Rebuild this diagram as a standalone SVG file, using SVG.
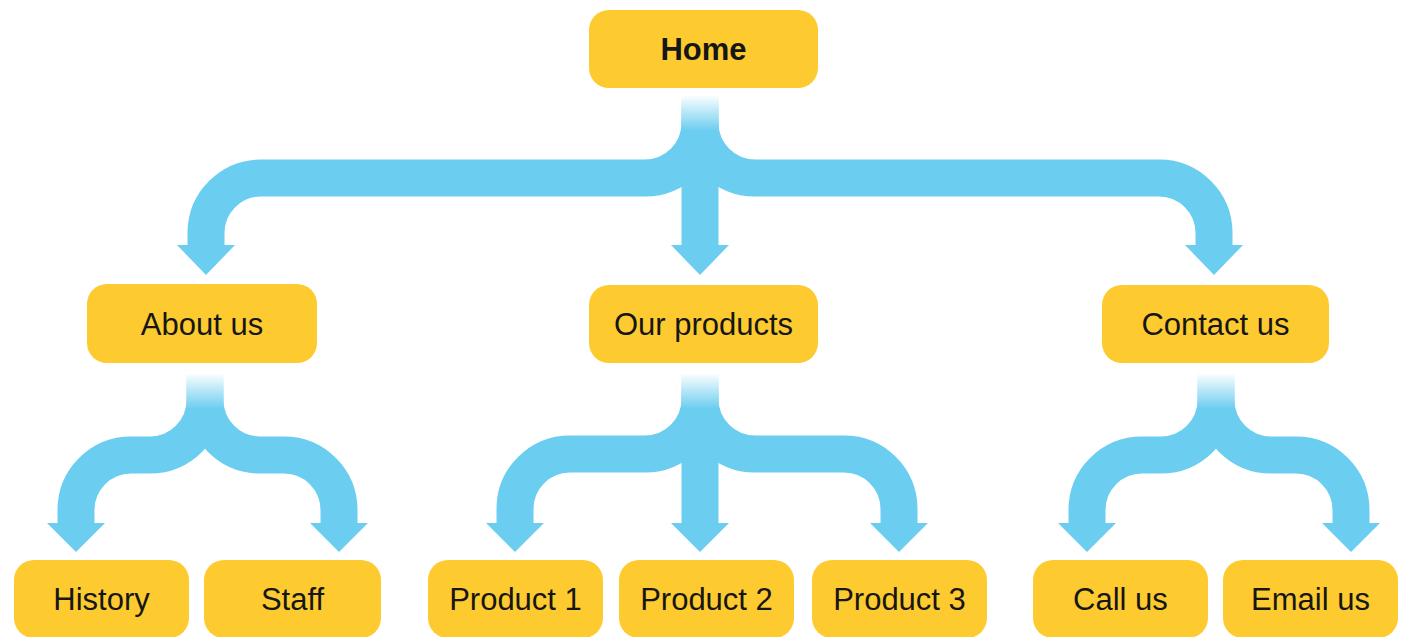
<svg xmlns="http://www.w3.org/2000/svg" width="1410" height="637" viewBox="0 0 1410 637">
<defs>
<linearGradient id="fade" x1="0" y1="0" x2="0" y2="1">
<stop offset="0" stop-color="#ffffff" stop-opacity="1"/>
<stop offset="1" stop-color="#ffffff" stop-opacity="0"/>
</linearGradient>
<style>
.box{fill:#fdcb30}
.lbl{font-family:"Liberation Sans",Arial,sans-serif;font-size:31px;fill:#161616;text-anchor:middle}
.bold{font-weight:bold}
.flow{fill:none;stroke:#6bcdf0;stroke-width:37;stroke-linecap:butt}
.head{fill:#6bcdf0}
.fade{fill:url(#fade)}
</style>
</defs>
<rect width="1410" height="637" fill="#ffffff"/>
<g id="connectors">
<path class="flow" d="M700 96 V123 A55 55 0 0 1 645 178 H261 A55 55 0 0 0 206 233 V247"/>
<path class="flow" d="M700 96 V247"/>
<path class="flow" d="M700 96 V123 A55 55 0 0 0 755 178 H1159 A55 55 0 0 1 1214 233 V247"/>
<polygon class="head" points="177,245 235,245 206,275"/>
<polygon class="head" points="671,245 729,245 700,275"/>
<polygon class="head" points="1185,245 1243,245 1214,275"/>
<rect class="fade" x="678" y="95" width="44" height="36"/>

<path class="flow" d="M205 374 V400 A55 55 0 0 1 150 455 H131 A55 55 0 0 0 76 510 V525"/>
<path class="flow" d="M205 374 V400 A55 55 0 0 0 260 455 H284 A55 55 0 0 1 339 510 V525"/>
<polygon class="head" points="47,523 105,523 76,552"/>
<polygon class="head" points="310,523 368,523 339,552"/>
<rect class="fade" x="183" y="373" width="44" height="36"/>

<path class="flow" d="M700 374 V399 A55 55 0 0 1 645 454 H570 A55 55 0 0 0 515 509 V525"/>
<path class="flow" d="M700 374 V525"/>
<path class="flow" d="M700 374 V399 A55 55 0 0 0 755 454 H844 A55 55 0 0 1 899 509 V525"/>
<polygon class="head" points="486,523 544,523 515,552"/>
<polygon class="head" points="671,523 729,523 700,552"/>
<polygon class="head" points="870,523 928,523 899,552"/>
<rect class="fade" x="678" y="373" width="44" height="36"/>

<path class="flow" d="M1216 374 V400 A55 55 0 0 1 1161 455 H1142 A55 55 0 0 0 1087 510 V525"/>
<path class="flow" d="M1216 374 V400 A55 55 0 0 0 1271 455 H1296 A55 55 0 0 1 1351 510 V525"/>
<polygon class="head" points="1058,523 1116,523 1087,552"/>
<polygon class="head" points="1322,523 1380,523 1351,552"/>
<rect class="fade" x="1194" y="373" width="44" height="36"/>
</g>
<g id="home"><rect class="box" x="589" y="10" width="229" height="78" rx="20"/><text class="lbl bold" x="703.5" y="60">Home</text></g>
<g id="about-us"><rect class="box" x="87" y="284" width="230" height="79" rx="20"/><text class="lbl" x="202" y="335">About us</text></g>
<g id="our-products"><rect class="box" x="589" y="285" width="229" height="78" rx="20"/><text class="lbl" x="703.5" y="335">Our products</text></g>
<g id="contact-us"><rect class="box" x="1102" y="285" width="227" height="78" rx="20"/><text class="lbl" x="1215.5" y="335">Contact us</text></g>
<g id="history"><rect class="box" x="14" y="560" width="175" height="78" rx="20"/><text class="lbl" x="101.5" y="610">History</text></g>
<g id="staff"><rect class="box" x="204" y="560" width="177" height="78" rx="20"/><text class="lbl" x="292.5" y="610">Staff</text></g>
<g id="product-1"><rect class="box" x="428" y="560" width="175" height="78" rx="20"/><text class="lbl" x="515.5" y="610">Product 1</text></g>
<g id="product-2"><rect class="box" x="619" y="560" width="175" height="78" rx="20"/><text class="lbl" x="706.5" y="610">Product 2</text></g>
<g id="product-3"><rect class="box" x="812" y="560" width="175" height="78" rx="20"/><text class="lbl" x="899.5" y="610">Product 3</text></g>
<g id="call-us"><rect class="box" x="1033" y="560" width="175" height="78" rx="20"/><text class="lbl" x="1120.5" y="610">Call us</text></g>
<g id="email-us"><rect class="box" x="1223" y="560" width="175" height="78" rx="20"/><text class="lbl" x="1310.5" y="610">Email us</text></g>
</svg>
